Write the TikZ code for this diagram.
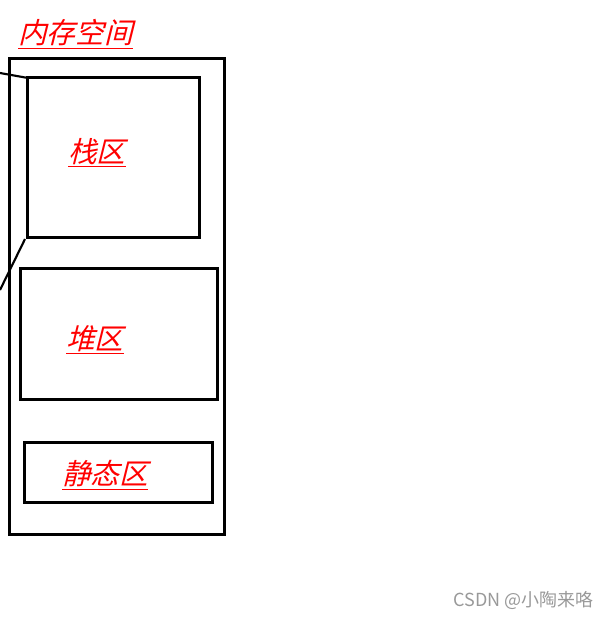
\documentclass[tikz,border=0pt]{standalone}
\usepackage{fontspec}
\newfontfamily\cjk[FakeSlant=0.25]{Noto Sans CJK SC}
\newfontfamily\cjkup{Noto Sans CJK SC}
\begin{document}
\begin{tikzpicture}[x=0.75pt,y=-0.75pt,
  box/.style={draw=black,line width=2.3pt,inner sep=0pt},
  lbl/.style={text=red,font=\cjk\fontsize{21.5}{24}\selectfont,inner sep=0pt},
  wire/.style={draw=black,line width=1.6pt},
  wmark/.style={text=gray!80,font=\cjkup\fontsize{13.5}{15}\selectfont,inner sep=0pt}]
\useasboundingbox (0,0) rectangle (605,618);
\node[box,minimum width=215*0.75pt,minimum height=476*0.75pt,anchor=north west] (outer) at (8,57) {};
\node[box,minimum width=172*0.75pt,minimum height=160*0.75pt,anchor=north west] (stack) at (26,76) {};
\node[box,minimum width=197*0.75pt,minimum height=131*0.75pt,anchor=north west] (heap) at (19,267) {};
\node[box,minimum width=188*0.75pt,minimum height=60*0.75pt,anchor=north west] (static) at (23,441) {};
\node[lbl,anchor=west] (t0) at (18,34) {\underline{内存空间}};
\node[lbl,anchor=west] (t1) at (68,153) {\underline{栈区}};
\node[lbl,anchor=west] (t2) at (66,340) {\underline{堆区}};
\node[lbl,anchor=west] (t3) at (62,475) {\underline{静态区}};
\node[wmark,anchor=west] (wm) at (453,600) {CSDN @小陶来咯};
\coordinate (a) at (0,73);
\coordinate (b) at (0,290);
\draw[wire] (a) -- ([xshift=2*0.75pt,yshift=-2*0.75pt]stack.north west);
\draw[wire] ([xshift=-1*0.75pt]stack.south west) -- (b);
\end{tikzpicture}
\end{document}
